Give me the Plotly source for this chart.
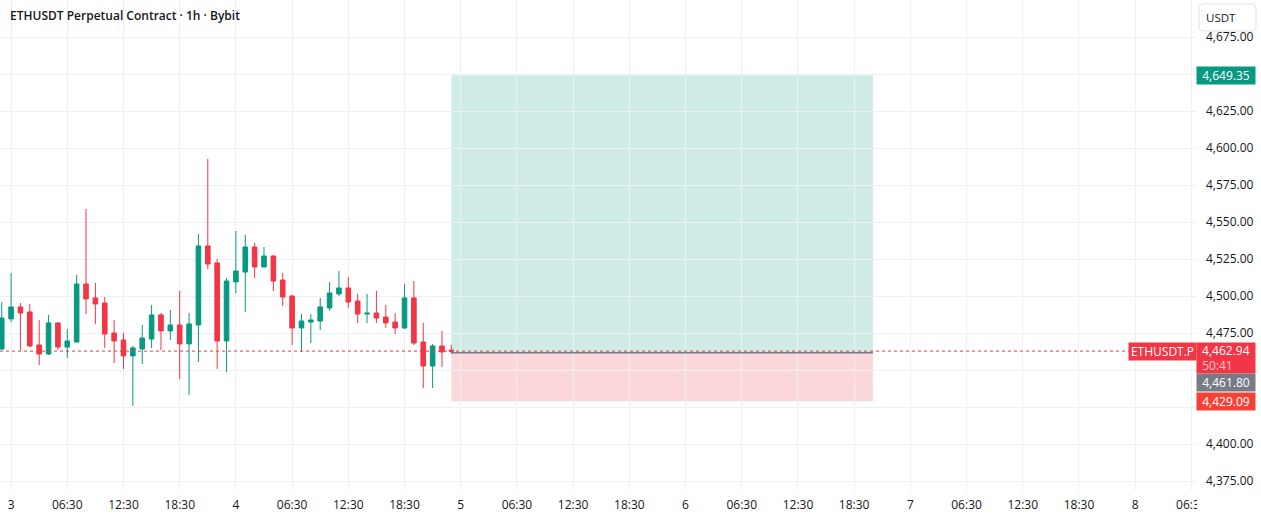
import plotly.graph_objects as go
import pandas as pd

# ---------------- data ----------------
candle_times = pd.date_range("2025-09-02 23:30", periods=49, freq="h")
opens = [4464.4, 4484.7, 4492.8, 4489.4, 4467.1, 4461.0, 4482.0, 4465.7, 4469.1, 4508.3,
         4498.9, 4495.5, 4475.2, 4470.5, 4459.7, 4464.4, 4471.1, 4487.4, 4476.6, 4480.6,
         4467.8, 4480.6, 4534.0, 4522.5, 4469.8, 4509.7, 4516.4, 4533.3, 4519.8, 4527.2,
         4511.0, 4500.2, 4478.6, 4482.6, 4483.3, 4492.1, 4501.6, 4505.6, 4496.8, 4488.0,
         4488.7, 4486.0, 4482.6, 4478.6, 4498.9, 4469.1, 4452.9, 4466.4, 4463.6]
highs = [4496.1, 4515.7, 4495.5, 4494.8, 4484.0, 4487.4, 4482.3, 4477.9, 4514.4, 4559.0,
         4509.0, 4499.5, 4484.0, 4475.2, 4466.4, 4480.6, 4494.1, 4488.7, 4490.7, 4503.6,
         4488.7, 4542.1, 4592.8, 4525.2, 4512.4, 4544.1, 4541.4, 4536.0, 4533.3, 4527.9,
         4515.7, 4500.9, 4488.0, 4488.0, 4498.9, 4509.7, 4517.1, 4513.0, 4501.6, 4501.6,
         4503.6, 4494.1, 4488.7, 4508.3, 4510.3, 4482.0, 4467.8, 4476.6, 4467.1]
lows = [4463.7, 4482.6, 4463.7, 4465.7, 4453.6, 4460.3, 4463.7, 4458.3, 4468.8, 4488.0,
        4481.3, 4465.1, 4454.9, 4450.9, 4425.9, 4454.2, 4465.1, 4463.7, 4470.5, 4444.1,
        4433.3, 4455.6, 4518.4, 4450.9, 4448.8, 4502.2, 4489.4, 4512.4, 4519.5, 4503.6,
        4493.4, 4467.1, 4462.4, 4468.4, 4477.2, 4490.1, 4500.2, 4492.1, 4482.0, 4482.0,
        4482.0, 4478.6, 4474.5, 4477.9, 4467.1, 4438.0, 4438.0, 4452.2, 4461.0]
closes = [4485.3, 4492.8, 4488.7, 4466.4, 4461.0, 4482.0, 4465.7, 4469.8, 4508.3, 4498.2,
          4494.8, 4474.5, 4469.8, 4459.7, 4465.1, 4471.8, 4487.4, 4476.6, 4480.6, 4467.8,
          4481.3, 4534.0, 4521.8, 4469.8, 4510.3, 4517.1, 4533.3, 4519.8, 4527.2, 4510.3,
          4499.5, 4478.6, 4483.3, 4484.0, 4492.8, 4502.2, 4505.6, 4496.1, 4488.0, 4488.6,
          4485.3, 4482.0, 4478.6, 4498.9, 4468.4, 4452.9, 4466.4, 4462.4, 4462.94]

last_price = 4462.94
countdown = "50:41"
entry_price = 4461.80
take_profit = 4649.35
stop_loss = 4429.09
position_start = "2025-09-04 23:30"
position_end = "2025-09-06 20:30"

x_tick_times = pd.date_range("2025-09-03 00:30", "2025-09-08 06:30", freq="6h")
x_tick_text = [str(t.day) if t.hour == 0 else t.strftime("%H:%M") for t in x_tick_times]
y_tick_vals = list(range(4375, 4676, 25))
hidden_y_ticks = [4425, 4450, 4650]  # covered by price labels in the original
y_tick_text = ["" if v in hidden_y_ticks else f"{v:,.2f}" for v in y_tick_vals]

x_range = ["2025-09-02 23:19", "2025-09-08 07:06"]
y_range = [4369.1, 4700.2]

title_text = "ETHUSDT Perpetual Contract · 1h · Bybit"
symbol_text = "ETHUSDT.P"
currency_text = "USDT"

# ---------------- styles ----------------
W, H = 1261, 518
ML, MR, MT, MB = 0, 64, 0, 28
PW, PH = W - ML - MR, H - MT - MB
UP = "#089981"
DOWN = "#f23645"
GRID = "#eef0f5"
TXT = "#131722"
FONT = "Open Sans"


def px_x(px):
    return (px - ML) / PW


def px_y(py):
    return 1 - (py - MT) / PH


fig = go.Figure()
fig.add_trace(go.Candlestick(
    x=candle_times, open=opens, high=highs, low=lows, close=closes,
    increasing=dict(line=dict(color=UP, width=1), fillcolor=UP),
    decreasing=dict(line=dict(color=DOWN, width=1), fillcolor=DOWN),
    whiskerwidth=0, hoverinfo="skip", showlegend=False,
))

shapes = [
    # long position: profit zone
    dict(type="rect", xref="x", yref="y", x0=position_start, x1=position_end,
         y0=entry_price, y1=take_profit, fillcolor="rgba(8,153,129,0.2)",
         line=dict(width=0), layer="below"),
    # loss zone
    dict(type="rect", xref="x", yref="y", x0=position_start, x1=position_end,
         y0=stop_loss, y1=entry_price, fillcolor="rgba(242,54,69,0.2)",
         line=dict(width=0), layer="below"),
    # entry line
    dict(type="line", xref="x", yref="y", x0=position_start, x1=position_end,
         y0=entry_price, y1=entry_price, line=dict(color="#787b86", width=1.5),
         layer="above"),
    # last price dotted line
    dict(type="line", xref="paper", yref="y", x0=0, x1=1,
         y0=last_price, y1=last_price, line=dict(color=DOWN, width=1, dash="dot"),
         layer="above"),
    # mask for time labels under the price scale
    dict(type="rect", xref="paper", yref="paper", x0=1, x1=px_x(W + 5),
         y0=px_y(H + 5), y1=0, fillcolor="white", line=dict(width=0), layer="above"),
]

# rounded currency box
bx0, bx1, by0, by1, r = 1199, 1256, 4, 31, 4
rx, ry = r / PW, r / PH
X0, X1, Y0, Y1 = px_x(bx0), px_x(bx1), px_y(by0), px_y(by1)
path = (f"M {X0+rx},{Y0} L {X1-rx},{Y0} Q {X1},{Y0} {X1},{Y0-ry} "
        f"L {X1},{Y1+ry} Q {X1},{Y1} {X1-rx},{Y1} L {X0+rx},{Y1} "
        f"Q {X0},{Y1} {X0},{Y1+ry} L {X0},{Y0-ry} Q {X0},{Y0} {X0+rx},{Y0} Z")
shapes.append(dict(type="path", xref="paper", yref="paper", path=path,
                   fillcolor="white", line=dict(color="#e0e3eb", width=1), layer="above"))

annotations = [
    dict(text=title_text, xref="paper", yref="paper", x=px_x(8), y=px_y(16),
         xanchor="left", yanchor="middle", showarrow=False,
         font=dict(family=FONT, size=12, color=TXT, weight=600)),
    dict(text=currency_text, xref="paper", yref="paper", x=px_x(1221), y=px_y(17.5),
         xanchor="center", yanchor="middle", showarrow=False,
         font=dict(family=FONT, size=11.5, color=TXT)),
    dict(text=f"{take_profit:,.2f}", xref="paper", yref="y", x=px_x(1196), y=take_profit,
         xanchor="left", yanchor="middle", showarrow=False, bgcolor=UP,
         width=54, height=13, borderpad=2, align="center",
         font=dict(family=FONT, size=12, color="white")),
    dict(text=symbol_text, xref="paper", yref="y", x=px_x(1128), y=last_price,
         xanchor="left", yanchor="middle", showarrow=False, bgcolor=DOWN,
         width=63, height=13, borderpad=2, align="center",
         font=dict(family=FONT, size=12, color="white")),
    dict(text=f"\u00a0{last_price:,.2f}<br>\u00a0<span style='color:#fcc4c9'>{countdown}</span>",
         xref="paper", yref="y", x=px_x(1196), y=last_price, yshift=-7,
         xanchor="left", yanchor="middle", showarrow=False, bgcolor=DOWN,
         width=54, height=26, borderpad=2, align="left",
         font=dict(family=FONT, size=12, color="white")),
    dict(text=f"{entry_price:,.2f}", xref="paper", yref="y", x=px_x(1196), y=entry_price,
         yshift=-29.5, xanchor="left", yanchor="middle", showarrow=False, bgcolor="#787b86",
         width=54, height=13, borderpad=2, align="center",
         font=dict(family=FONT, size=12, color="white")),
    dict(text=f"{stop_loss:,.2f}", xref="paper", yref="y", x=px_x(1196), y=stop_loss,
         xanchor="left", yanchor="middle", showarrow=False, bgcolor="#f44336",
         width=54, height=13, borderpad=2, align="center",
         font=dict(family=FONT, size=12, color="white")),
]

fig.update_layout(
    width=W, height=H,
    margin=dict(l=ML, r=MR, t=MT, b=MB, pad=0),
    paper_bgcolor="white", plot_bgcolor="white",
    font=dict(family=FONT, size=12, color=TXT),
    showlegend=False, hovermode=False, dragmode=False,
    shapes=shapes, annotations=annotations,
    boxgap=0.3,
    xaxis=dict(
        type="date", range=x_range, rangeslider=dict(visible=False),
        tickmode="array", tickvals=x_tick_times, ticktext=x_tick_text,
        showgrid=True, gridcolor=GRID, gridwidth=1, zeroline=False, showline=False,
        ticks="", tickfont=dict(family=FONT, size=12, color=TXT),
        ticklabelstandoff=6, fixedrange=True,
    ),
    yaxis=dict(
        side="right", range=y_range, tickmode="array",
        tickvals=y_tick_vals, ticktext=y_tick_text,
        showgrid=True, gridcolor=GRID, gridwidth=1, zeroline=False, showline=False,
        ticks="", tickfont=dict(family=FONT, size=12, color=TXT),
        ticklabelstandoff=8, fixedrange=True,
    ),
)

fig.write_html("out.html", config={"displayModeBar": False, "staticPlot": True})
